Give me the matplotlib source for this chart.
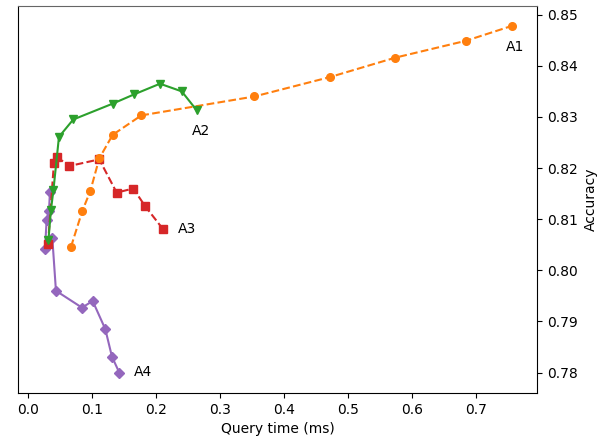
import matplotlib
matplotlib.use("Agg")
import matplotlib.pyplot as plt

# A1 (orange, circles, dashed)
a1_x = [0.0676, 0.0852, 0.0977, 0.1117, 0.1326, 0.1772, 0.3535, 0.4716, 0.5735, 0.6838, 0.7551]
a1_y = [0.8046, 0.8116, 0.8155, 0.8219, 0.8265, 0.8303, 0.8340, 0.8378, 0.8416, 0.8449, 0.8478]

# A2 (green, down triangles, solid)
a2_x = [0.0324, 0.0363, 0.0402, 0.0488, 0.0711, 0.1326, 0.1658, 0.2064, 0.2403, 0.2637]
a2_y = [0.8059, 0.8118, 0.8157, 0.8261, 0.8295, 0.8326, 0.8344, 0.8365, 0.8350, 0.8313]

# A3 (red, squares, dashed)
a3_x = [0.0317, 0.0410, 0.0452, 0.0649, 0.1117, 0.1388, 0.1647, 0.1835, 0.2115]
a3_y = [0.8051, 0.8210, 0.8222, 0.8204, 0.8217, 0.8152, 0.8160, 0.8125, 0.8080]

# A4 (purple, diamonds, solid)
a4_x = [0.0348, 0.0332, 0.0296, 0.0270, 0.0384, 0.0441, 0.0847, 0.1014, 0.1211, 0.1315, 0.1429]
a4_y = [0.8154, 0.8116, 0.8099, 0.8041, 0.8064, 0.7960, 0.7927, 0.7940, 0.7885, 0.7831, 0.7800]

labels = ["A1", "A2", "A3", "A4"]
label_pos = [(0.7462, 0.8436), (0.2558, 0.8273), (0.2349, 0.8081), (0.1663, 0.7801)]

fig = plt.figure(figsize=(6.16, 4.41), dpi=100)
ax = fig.add_axes([0.0292, 0.1088, 0.8431, 0.8776])

ax.plot(a4_x, a4_y, color="tab:purple", marker="D", linestyle="-", markersize=5, zorder=2)
ax.plot(a3_x, a3_y, color="tab:red", marker="s", linestyle="--", markersize=5.5, zorder=3)
ax.plot(a1_x, a1_y, color="tab:orange", marker="o", linestyle="--", markersize=5.5, zorder=4)
ax.plot(a2_x, a2_y, color="tab:green", marker="v", linestyle="-", markersize=5.5, zorder=5)

for lab, (tx, ty) in zip(labels, label_pos):
    ax.text(tx, ty, lab, ha="left", va="center", fontsize=10)

ax.set_xlim(-0.0151, 0.795)
ax.set_ylim(0.7760, 0.8517)
ax.set_xticks([0.0, 0.1, 0.2, 0.3, 0.4, 0.5, 0.6, 0.7])
ax.set_yticks([0.78, 0.79, 0.80, 0.81, 0.82, 0.83, 0.84, 0.85])
ax.yaxis.tick_right()
ax.yaxis.set_label_position("right")
ax.set_xlabel("Query time (ms)")
ax.set_ylabel("Accuracy")
ax.spines["top"].set_color("#666666")

fig.savefig("out.png", dpi=100)
